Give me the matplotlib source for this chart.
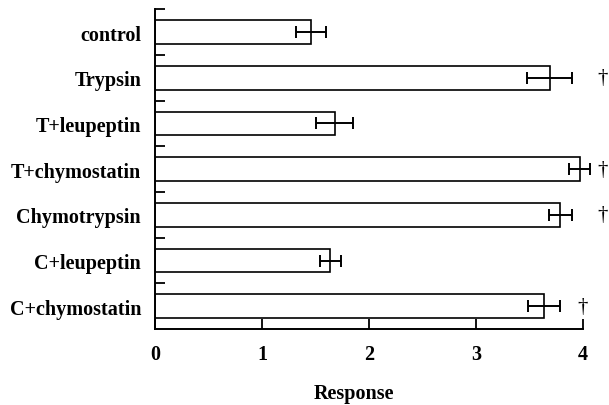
import matplotlib
matplotlib.use("Agg")
import matplotlib.pyplot as plt
import numpy as np

categories = ["control", "Trypsin", "T+leupeptin", "T+chymostatin",
              "Chymotrypsin", "C+leupeptin", "C+chymostatin"]
response = [1.46, 3.69, 1.68, 3.97, 3.79, 1.64, 3.64]
errors = [0.14, 0.21, 0.17, 0.10, 0.11, 0.10, 0.15]
significant = [False, True, False, True, True, False, True]

plt.rcParams['font.family'] = ['Liberation Serif', 'DejaVu Serif']
plt.rcParams['font.weight'] = 'bold'

fig = plt.figure(figsize=(6.09, 4.06), dpi=100)
ax = fig.add_axes([0.2545, 0.187, 0.957 - 0.2545, 0.975 - 0.187])

ypos = np.arange(len(categories))
ax.barh(ypos, response, height=0.52, color='white', edgecolor='black', linewidth=1.2)
ax.errorbar(response, ypos, xerr=errors, fmt='none', ecolor='black',
            elinewidth=1.4, capsize=4.5, capthick=1.4, clip_on=False)

for y, v, e, s in zip(ypos, response, errors, significant):
    if s:
        # dagger placed to the right of the bar
        xd = 4.0 if y == len(categories) - 1 else 4.18
        ax.text(xd, y, u"\u2020", ha='center', va='center', fontsize=15,
                fontweight='normal', clip_on=False)

ax.set_xlim(0, 4)
ax.set_ylim(len(categories) - 0.5, -0.5)
ax.set_yticks(ypos)
ax.set_yticklabels(categories, fontsize=14.5, fontweight='bold')
ax.set_yticks(np.arange(len(categories)) - 0.5, minor=True)
ax.tick_params(axis='y', which='major', length=0, pad=10)
ax.tick_params(axis='y', which='minor', direction='in', length=7, width=1.3)
ax.set_xticks([0, 1, 2, 3, 4])
ax.set_xticklabels(['0', '1', '2', '3', '4'], fontsize=14.5, fontweight='bold')
ax.tick_params(axis='x', direction='in', length=7, width=1.3, pad=11)
ax.set_xlabel("Response", fontsize=14.5, fontweight='bold')
ax.xaxis.set_label_coords(0.465, -0.17)

for side in ['top', 'right']:
    ax.spines[side].set_visible(False)
for side in ['left', 'bottom']:
    ax.spines[side].set_linewidth(1.4)

fig.savefig("out.png", dpi=100)
